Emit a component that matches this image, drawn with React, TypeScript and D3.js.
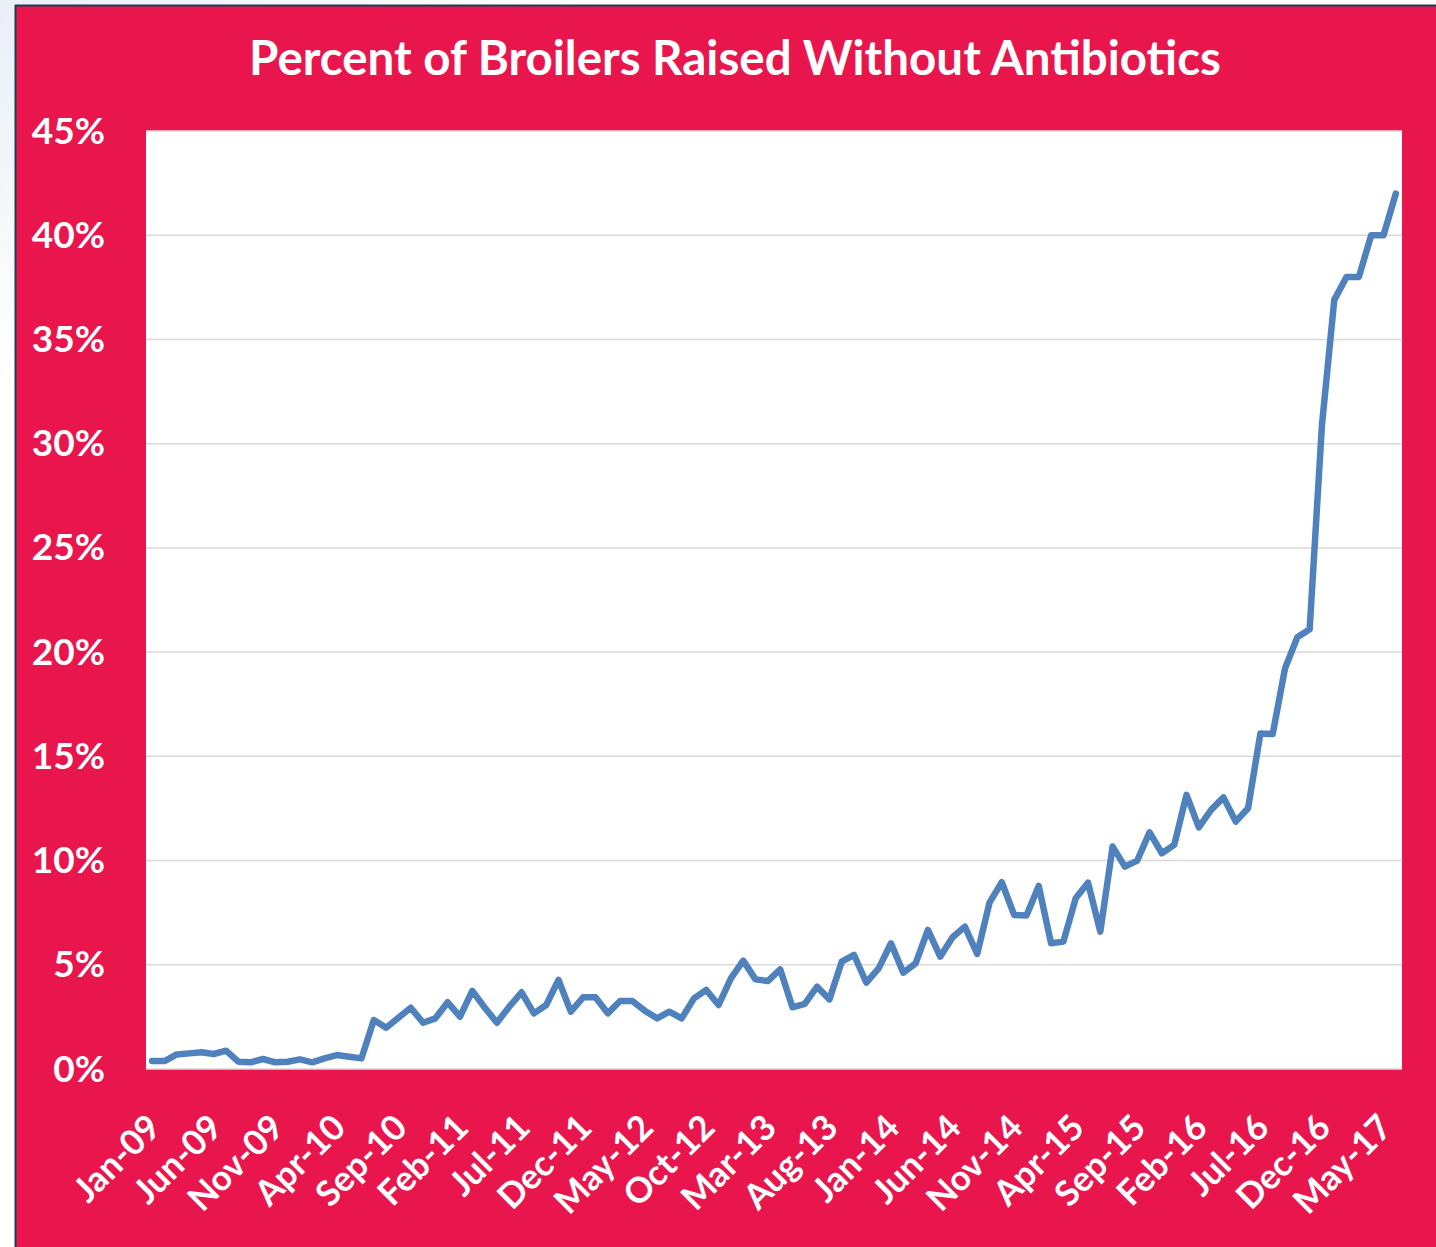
import React from "react";
import * as d3 from "d3";

const title = "Percent of Broilers Raised Without Antibiotics";

// Monthly share (%) from Jan-09 to Jun-17
const values: number[] = [
  0.38, 0.38, 0.70, 0.75, 0.80, 0.72, 0.88, 0.35, 0.32, 0.48, 0.32, 0.35,
  0.46, 0.32, 0.51, 0.67, 0.59, 0.51, 2.35, 1.98, 2.46, 2.94, 2.22, 2.43,
  3.20, 2.51, 3.75, 2.95, 2.22, 2.99, 3.68, 2.67, 3.07, 4.27, 2.75, 3.44,
  3.44, 2.67, 3.26, 3.26, 2.80, 2.43, 2.75, 2.43, 3.39, 3.79, 3.07, 4.35,
  5.20, 4.30, 4.22, 4.78, 2.96, 3.12, 3.95, 3.34, 5.15, 5.47, 4.14, 4.83,
  6.03, 4.62, 5.07, 6.67, 5.39, 6.32, 6.83, 5.52, 7.98, 8.96, 7.39, 7.36,
  8.78, 6.03, 6.11, 8.19, 8.94, 6.59, 10.67, 9.71, 10.0, 11.35, 10.35, 10.75,
  13.15, 11.59, 12.43, 13.03, 11.87, 12.51, 16.10, 16.07, 19.22, 20.71, 21.1, 30.9,
  36.9, 38.0, 38.0, 40.0, 40.0, 42.0,
];

const tickLabels: string[] = [
  "Jan-09", "Jun-09", "Nov-09", "Apr-10", "Sep-10", "Feb-11", "Jul-11",
  "Dec-11", "May-12", "Oct-12", "Mar-13", "Aug-13", "Jan-14", "Jun-14",
  "Nov-14", "Apr-15", "Sep-15", "Feb-16", "Jul-16", "Dec-16", "May-17",
];
const tickStep = 5; // months between labels

const yTicks: number[] = [0, 5, 10, 15, 20, 25, 30, 35, 40, 45];

const W = 1436;
const H = 1247;
const plot = { left: 146, right: 1402, top: 131, bottom: 1069 };
const RED = "#E8164D";
const FONT = "Lato, 'Open Sans', sans-serif";

export default function App() {
  const x = d3
    .scaleLinear()
    .domain([-0.5, values.length - 0.5])
    .range([plot.left, plot.right]);
  const y = d3.scaleLinear().domain([0, 45]).range([plot.bottom, plot.top]);

  const line = d3
    .line<number>()
    .x((_, i) => x(i))
    .y((d) => y(d));

  return (
    <svg
      width={W}
      height={H}
      style={{ position: "absolute", left: 0, top: 0, display: "block" }}
    >
      <defs>
        <linearGradient id="bgGrad" x1="0" y1="0" x2="0.15" y2="0.2">
          <stop offset="0" stopColor="#e9f0f6" />
          <stop offset="1" stopColor="#ffffff" />
        </linearGradient>
      </defs>
      <rect x={0} y={0} width={W} height={H} fill="url(#bgGrad)" />
      {/* red panel with thin dark border */}
      <rect x={15} y={5} width={W - 15 + 10} height={H} fill={RED} />
      <line x1={15.5} y1={5} x2={15.5} y2={H} stroke="#1d3c58" strokeWidth={2} />
      <line x1={15} y1={5.5} x2={W} y2={5.5} stroke="#1d3c58" strokeWidth={2} />

      {/* title */}
      <text
        x={735}
        y={75}
        textAnchor="middle"
        fill="#ffffff"
        fontFamily={FONT}
        fontWeight={700}
        fontSize={47.5}
      >
        {title}
      </text>

      {/* plot area */}
      <rect
        x={plot.left}
        y={plot.top}
        width={plot.right - plot.left}
        height={plot.bottom - plot.top}
        fill="#ffffff"
      />
      {yTicks.map((t) => (
        <line
          key={"g" + t}
          x1={plot.left}
          x2={plot.right}
          y1={y(t)}
          y2={y(t)}
          stroke="#d9d9d9"
          strokeWidth={1.5}
        />
      ))}
      {yTicks.map((t) => (
        <text
          key={"yl" + t}
          x={105}
          y={y(t) + 12.5}
          textAnchor="end"
          fill="#ffffff"
          fontFamily={FONT}
          fontWeight={700}
          fontSize={37}
        >
          {t + "%"}
        </text>
      ))}

      {/* x labels */}
      {tickLabels.map((lab, k) => {
        const tx = x(k * tickStep) + 2;
        const ty = 1121;
        return (
          <text
            key={"xl" + lab}
            x={tx}
            y={ty}
            dy="0.35em"
            textAnchor="end"
            transform={`rotate(-45, ${tx}, ${ty})`}
            fill="#ffffff"
            fontFamily={FONT}
            fontWeight={700}
            fontSize={35}
          >
            {lab}
          </text>
        );
      })}

      {/* series line */}
      <path
        d={line(values) || ""}
        fill="none"
        stroke="#4F81BD"
        strokeWidth={6.5}
        strokeLinejoin="round"
        strokeLinecap="round"
      />
    </svg>
  );
}
